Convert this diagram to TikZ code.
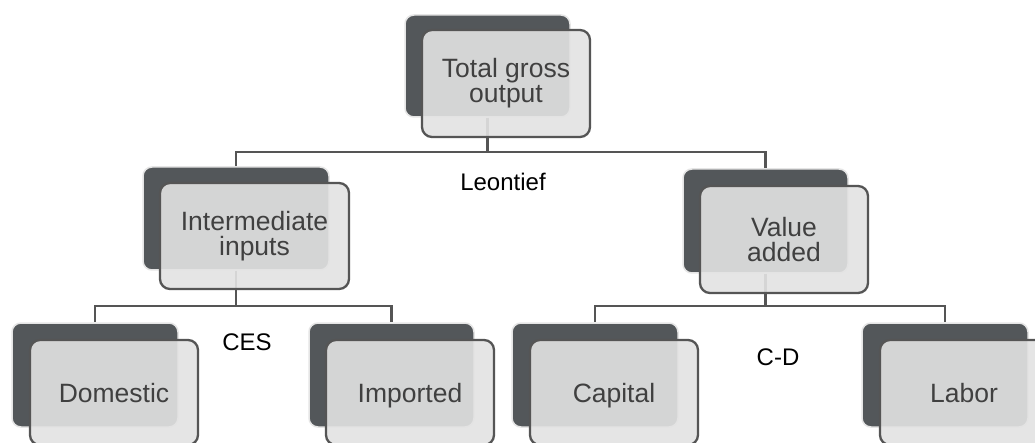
\documentclass[tikz,border=0pt]{standalone}
\usepackage{fontspec}
\setmainfont{Liberation Sans}
\definecolor{darkbox}{HTML}{53575A}
\definecolor{frontfill}{HTML}{E3E3E3}
\definecolor{edgegray}{HTML}{555555}
\definecolor{txtgray}{HTML}{404040}
\tikzset{
  backbox/.style={fill=darkbox, draw=black!10, line width=1.5pt, rounded corners=9pt, inner sep=0pt},
  frontbox/.style={fill=frontfill, fill opacity=0.9, text opacity=1, draw=edgegray, draw opacity=1,
    line width=2.3pt, rounded corners=10pt, inner sep=0pt, align=center, text=txtgray,
    font=\fontsize{26.5}{25}\selectfont},
  leafbox/.style={frontbox, text height=19pt, text depth=0pt, minimum width=168pt, minimum height=105pt},
  link/.style={draw=edgegray, line width=2.3pt},
  rulelabel/.style={font=\fontsize{24}{26}\selectfont, text=black, inner sep=0pt}
}
\begin{document}
\begin{tikzpicture}[x=1pt,y=-1pt]
\clip (0,0) rectangle (1035,443);
\fill[white] (0,0) rectangle (1035,443);
% back boxes
\node[backbox, minimum width=165pt, minimum height=102pt] (top-d) at (487.5,66) {};
\node[backbox, minimum width=186pt, minimum height=103pt] (int-d) at (236,218.5) {};
\node[backbox, minimum width=165pt, minimum height=104pt] (val-d) at (765.5,221) {};
\node[backbox, minimum width=166pt, minimum height=104pt] (dom-d) at (95,375) {};
\node[backbox, minimum width=165pt, minimum height=104pt] (imp-d) at (391.5,375) {};
\node[backbox, minimum width=166pt, minimum height=104pt] (cap-d) at (595,375) {};
\node[backbox, minimum width=166pt, minimum height=104pt] (lab-d) at (945,375) {};
% buses
\coordinate (bus1) at (0,152);
\coordinate (bus2) at (0,306);
% connectors
\draw[link] (top-d.south) -- (top-d.south |- bus1) -| (int-d.north);
\draw[link] (top-d.south |- bus1) -| (val-d.north);
\draw[link] (int-d.south) -- (int-d.south |- bus2) -| (dom-d.north);
\draw[link] (int-d.south |- bus2) -| (imp-d.north);
\draw[link] (val-d.south) -- (val-d.south |- bus2) -| (cap-d.north);
\draw[link] (val-d.south |- bus2) -| (lab-d.north);
% labels
\node[rulelabel] (leon) at (503,182) {Leontief};
\node[rulelabel] (ces) at (247,342) {CES};
\node[rulelabel] (cd) at (778,357) {C-D};
% front boxes
\node[frontbox, minimum width=168pt, minimum height=107pt] (top) at (506,83.5) {Total gross\\output};
\node[frontbox, minimum width=189pt, minimum height=106pt] (int) at (254.5,236) {Intermediate\\inputs};
\node[frontbox, minimum width=168pt, minimum height=107pt] (val) at (784,239.5) {Value\\added};
\node[leafbox] (dom) at (114,392.5) {Domestic};
\node[leafbox] (imp) at (410,392.5) {Imported};
\node[leafbox] (cap) at (614,392.5) {Capital};
\node[leafbox] (lab) at (964,392.5) {Labor};
\end{tikzpicture}
\end{document}
